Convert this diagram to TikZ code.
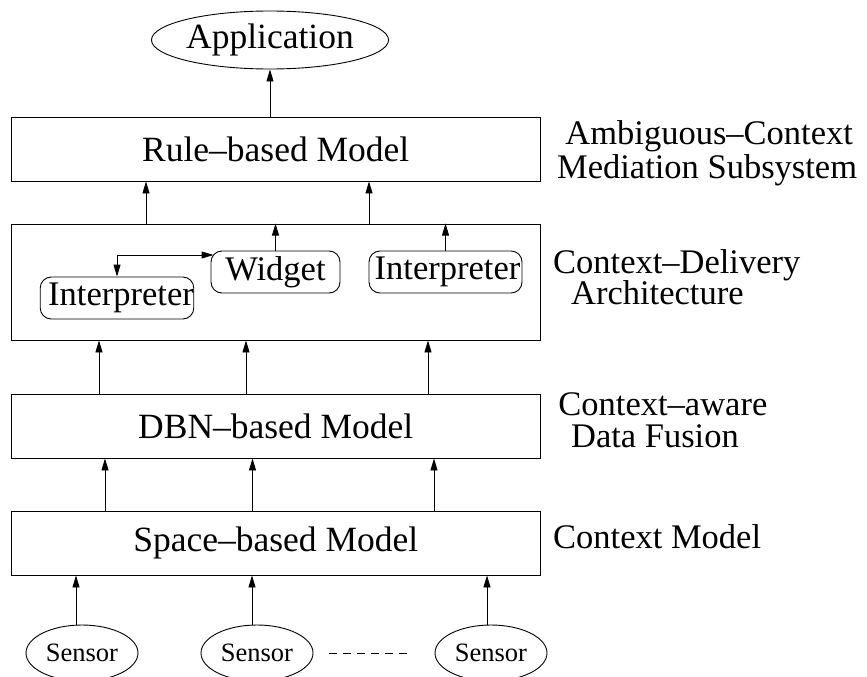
\documentclass[tikz,border=0pt]{standalone}
\usepackage{fontspec}
\setmainfont{Liberation Serif}
\usetikzlibrary{arrows.meta,calc,shapes.geometric}
\newcommand\sidetwo[4]{\vtop{\baselineskip=#1\lineskiplimit=-100pt\lineskip=0pt
  \hbox{\kern#2#3}\hbox{#4}}}
\begin{document}
\begin{tikzpicture}[x=1pt,y=-1pt,
  line width=0.9pt,
  tip/.tip={Triangle[length=12pt,width=7pt]},
  arr/.style={-tip},
  bigfont/.style={font=\fontsize{34.5}{40}\selectfont},
  boxfont/.style={font=\fontsize{35.5}{40}\selectfont},
  layerbox/.style={draw, minimum width=528.5pt, minimum height=64pt, inner sep=0pt, boxfont},
  ibox/.style={draw, rounded corners=11pt, minimum height=42pt, inner sep=0pt, bigfont},
  oval/.style={draw, ellipse, inner sep=0pt},
  sensor/.style={oval, minimum width=112pt, minimum height=56pt, font=\fontsize{26.5}{30}\selectfont},
  side/.style={anchor=base west, inner sep=0pt, bigfont},
]
\useasboundingbox (0,0) rectangle (867,677);

% main stack
\node[oval, minimum width=235pt, minimum height=58pt, boxfont] (app) at (270,40) {Application};
\node[layerbox] (rule) at (275.75,149) {Rule–based Model};
\node[layerbox, minimum height=116pt] (cd) at (275.75,282) {};
\node[layerbox] (dbn) at (275.75,426) {DBN–based Model};
\node[layerbox] (space) at (275.75,543) {Space–based Model};

% inside the delivery architecture
\node[ibox, minimum width=152pt] (i1) at (117,298) {\hspace*{8pt}Interpreter};
\node[ibox, minimum width=129pt] (w) at (275.5,272) {Widget};
\node[ibox, minimum width=153pt] (i2) at (445.5,272) {\hspace*{4pt}Interpreter};

% sensors
\node[sensor] (s1) at (82,653) {Sensor};
\node[sensor] (s2) at (257,653) {Sensor};
\node[sensor] (s3) at (491,653) {Sensor};

% column coordinates
\coordinate (a1) at (146,0);
\coordinate (a2) at (369,0);
\coordinate (b1) at (99,0);
\coordinate (b2) at (246,0);
\coordinate (b3) at (428,0);
\coordinate (c1) at (105,0);
\coordinate (c2) at (252.5,0);
\coordinate (c3) at (434,0);
\coordinate (d1) at (76,0);
\coordinate (d2) at (252,0);
\coordinate (d3) at (487,0);

% connectors
\draw[arr] (rule.north -| app) -- (app.south);
\draw[arr] (cd.north -| a1) -- (rule.south -| a1);
\draw[arr] (cd.north -| a2) -- (rule.south -| a2);
\draw[arr] (w.north) -- (cd.north -| w.north);
\draw[arr] (i2.north) -- (cd.north -| i2.north);
\coordinate (wj) at ($(w.west)+(3,-17)$);
\draw[tip-tip] (i1.north) |- (wj);
\draw[arr] (dbn.north -| b1) -- (cd.south -| b1);
\draw[arr] (dbn.north -| b2) -- (cd.south -| b2);
\draw[arr] (dbn.north -| b3) -- (cd.south -| b3);
\draw[arr] (space.north -| c1) -- (dbn.south -| c1);
\draw[arr] (space.north -| c2) -- (dbn.south -| c2);
\draw[arr] (space.north -| c3) -- (dbn.south -| c3);
\draw[arr] (s1.north -| d1) -- (space.south -| d1);
\draw[arr] (s2.north -| d2) -- (space.south -| d2);
\draw[arr] (s3.north -| d3) -- (space.south -| d3);
\coordinate (dl) at ($(s2.east)+(16,0)$);
\coordinate (dr) at ($(s3.west)+(-22,0)$);
\draw[dash pattern=on 8pt off 6pt] (dl) -- (dr);

% side labels
\node[side] (l1) at (556.7,144) {\sidetwo{34pt}{8.3pt}{Ambiguous–Context}{Mediation Subsystem}};
\node[side] (l2) at (552.7,273) {\sidetwo{31pt}{0pt}{Context–Delivery}{\kern18pt Architecture}};
\node[side] (l3) at (558,415) {\sidetwo{32pt}{0pt}{Context–aware}{\kern12.7pt Data Fusion}};
\node[side] (l4) at (552.7,548) {Context Model};
\end{tikzpicture}
\end{document}
